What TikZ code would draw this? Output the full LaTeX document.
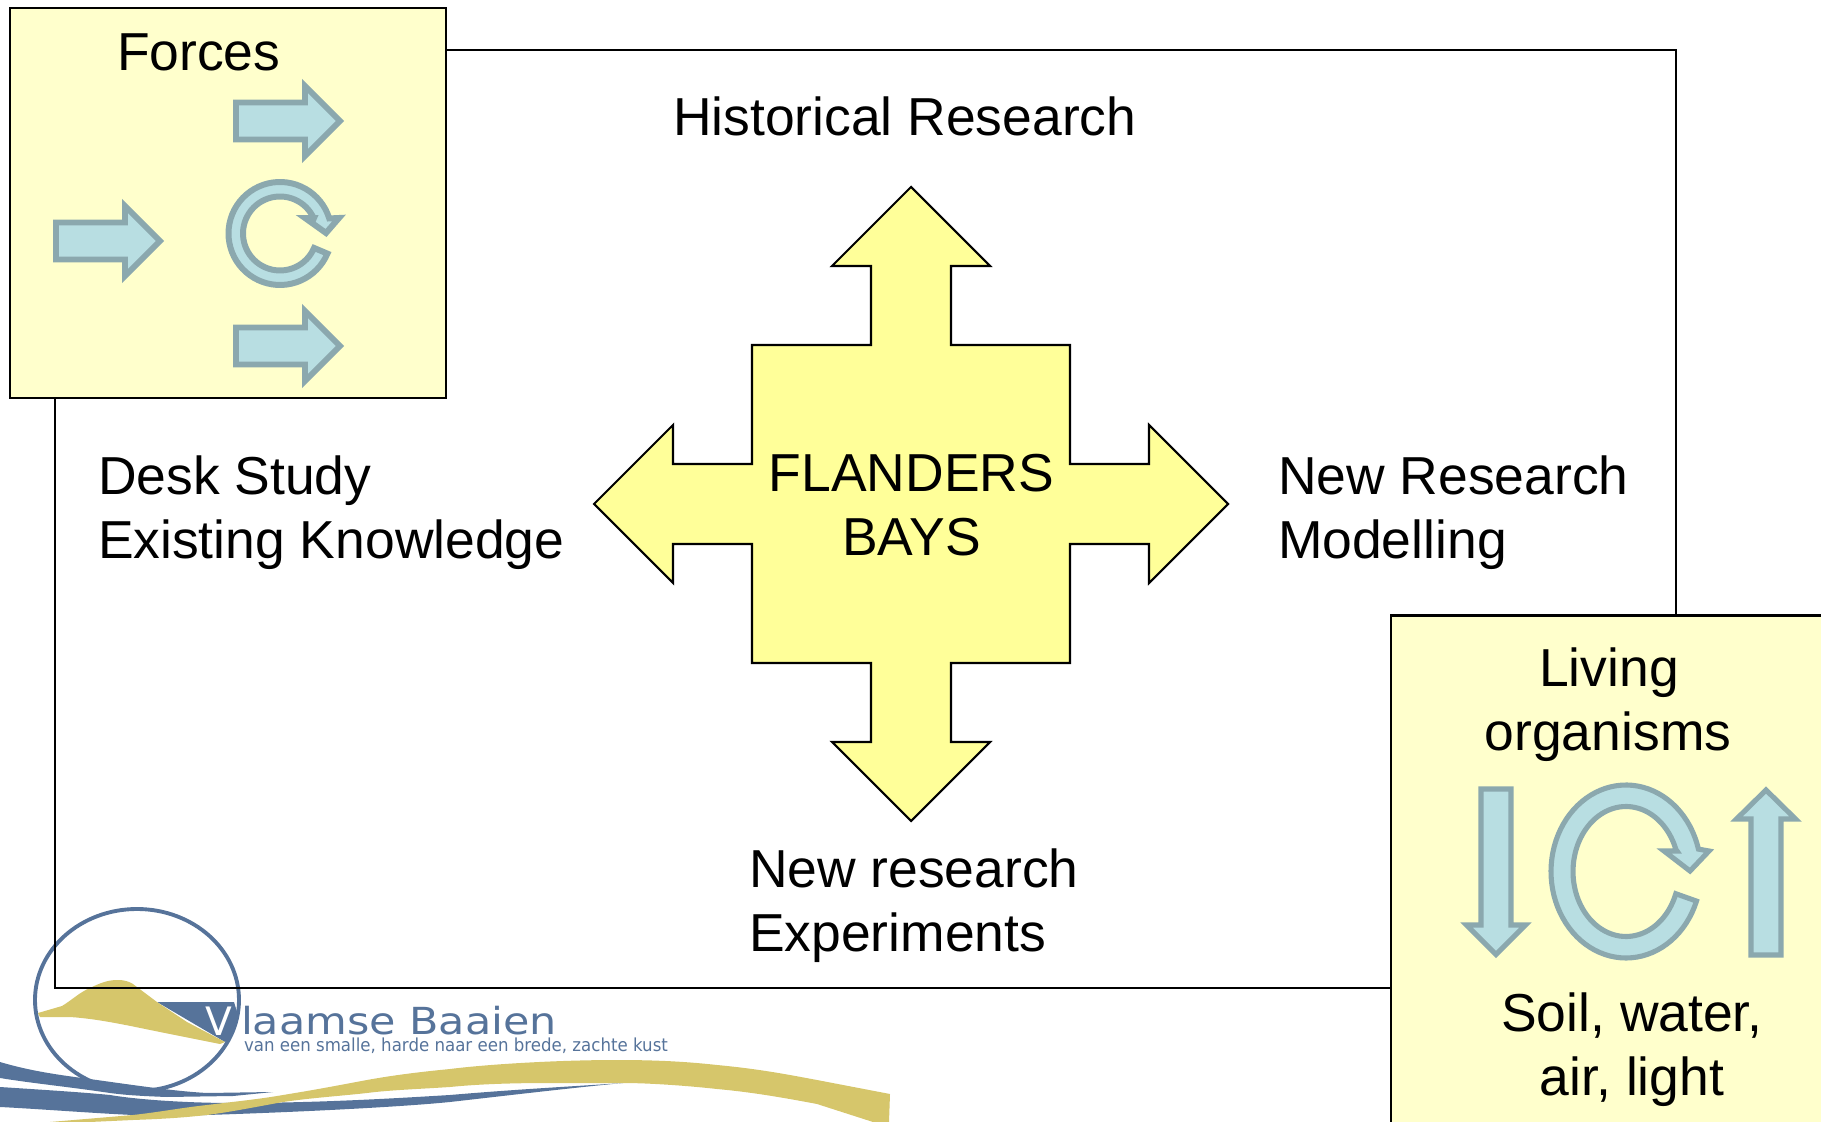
\documentclass[tikz,border=0pt]{standalone}
\usepackage{fontspec}
\setmainfont{Liberation Sans}
\newfontfamily\logofont{DejaVu Sans}
\definecolor{boxfill}{HTML}{FFFFCC}
\definecolor{crossfill}{HTML}{FFFF99}
\definecolor{arrowfill}{HTML}{B8DEE2}
\definecolor{arrowline}{HTML}{8BA8AE}
\definecolor{logoblue}{HTML}{56739A}
\definecolor{logogold}{HTML}{D6C66B}
\tikzset{
  frameline/.style={draw=black,line width=0.6pt},
  panelbox/.style={frameline,fill=boxfill},
  crossshape/.style={frameline,fill=crossfill,miter limit=10},
  bluearrow/.style={draw=arrowline,fill=arrowfill,line width=1.45pt,miter limit=10},
  forcearrow/.style={bluearrow,line width=1.7pt},
  label/.style={inner sep=0pt,outer sep=0pt,font=\fontsize{15.2}{18}\selectfont,text=black},
  logotext/.style={inner sep=0pt,outer sep=0pt,anchor=base west,text=logoblue},
  logofill/.style={fill=logoblue,draw=none},
  goldfill/.style={fill=logogold,draw=none}
}
\newcommand{\rightarrowat}[2]{% tail-left x, centre y
  \draw[forcearrow,shift={(#1,#2)}] (0,-18.5) -- (69,-18.5) -- (69,-35) -- (104,0) -- (69,35) -- (69,18.5) -- (0,18.5) -- cycle;}
\begin{document}
\begin{tikzpicture}[x=0.01cm,y=-0.01cm]
\useasboundingbox (0,0) rectangle (1821,1122);
\clip (0,0) rectangle (1821,1122);

% logo
\draw[logoblue,line width=1.1pt] (137,1000) ellipse [x radius=102,y radius=91];
\path[logofill] (157,1002) -- (234,1002) -- (238,1015) -- (228,1040) -- (225,1042) -- cycle;
\path[goldfill] (38,1013) -- (62,1006) .. controls (72,1000) and (80,992) .. (90,988)
  .. controls (100,983) and (108,980) .. (117,980) .. controls (124,980) and (128,981) .. (133,984)
  -- (157,1002) -- (187,1022) -- (225,1042) -- (220,1044) -- (160,1032)
  .. controls (130,1026) and (100,1019) .. (70,1017) -- (40,1017) -- cycle;
\path[logofill] (0,1062) .. controls (30,1071) and (60,1075) .. (82,1078)
  .. controls (120,1083) and (170,1091) .. (207,1093) -- (273,1092) -- (233,1096)
  -- (167,1097) .. controls (140,1096) and (125,1095) .. (110,1093)
  .. controls (70,1087) and (30,1083) .. (0,1078) -- cycle;
\path[logofill] (0,1087) .. controls (30,1089) and (80,1092) .. (110,1095)
  .. controls (140,1100) and (190,1103) .. (233,1103)
  .. controls (320,1103) and (400,1098) .. (450,1095)
  .. controls (520,1089) and (580,1086) .. (623,1083)
  .. controls (580,1087) and (520,1094) .. (450,1102)
  .. controls (400,1107) and (300,1112) .. (207,1115)
  -- (133,1115) .. controls (90,1113) and (40,1109) .. (0,1107) -- cycle;
\path[goldfill] (50,1122) -- (133,1115) .. controls (160,1112) and (180,1108) .. (207,1105)
  .. controls (240,1101) and (260,1099) .. (283,1095)
  .. controls (320,1089) and (340,1085) .. (367,1080)
  .. controls (400,1074) and (430,1071) .. (450,1069)
  .. controls (490,1064) and (560,1060) .. (617,1060)
  .. controls (660,1060) and (690,1062) .. (717,1065)
  .. controls (760,1069) and (790,1075) .. (817,1080)
  -- (890,1094) -- (889,1122) -- (873,1122) -- (817,1104)
  .. controls (780,1097) and (750,1092) .. (717,1089)
  .. controls (690,1086) and (650,1083) .. (623,1083)
  -- (550,1083) .. controls (500,1083) and (470,1085) .. (450,1087)
  .. controls (420,1089) and (390,1090) .. (367,1093)
  .. controls (340,1096) and (310,1098) .. (283,1102)
  .. controls (250,1108) and (230,1112) .. (207,1115)
  .. controls (180,1118) and (160,1119) .. (133,1120) -- (90,1122) -- cycle;
\node[logotext,text=white] (logoV) at (205,1035) {\scalebox{1.05}[1.05]{\logofont\fontsize{10.6}{12}\selectfont V}};
\node[logotext] (logoname) at (241,1034) {\scalebox{1.15}[1]{\logofont\fontsize{10.6}{12}\selectfont laamse Baaien}};
\node[logotext] (logotag) at (244,1051) {\scalebox{0.927}[1]{\logofont\fontsize{5.1}{6}\selectfont van een smalle, harde naar een brede, zachte kust}};

% main frame
\draw[frameline] (55,50) rectangle (1676,988);

% forces panel
\draw[panelbox] (10,8) rectangle (446,398);
\node[label,anchor=base west] (forces) at (117,71) {Forces};
\rightarrowat{236}{121}
\rightarrowat{56}{241}
\rightarrowat{236}{346}
\draw[forcearrow] plot[domain=23:343,samples=60] ({280+51.5*cos(\x)},{233.5+51.5*sin(\x)})
  -- (339,218) -- (326,233) -- (305,218) -- (314,218)
  -- plot[domain=336:23,samples=60] ({280+37*cos(\x)},{233.5+37*sin(\x)}) -- cycle;

% living panel
\draw[panelbox] (1391,615.5) rectangle (1830,1130);
\node[label,anchor=base] (living) at (1609,687) {Living};
\node[label,anchor=base] (organisms) at (1608,751) {organisms};
\node[label,anchor=base] (soil) at (1632,1031) {Soil, water,};
\node[label,anchor=base] (air) at (1632,1095) {air, light};
\draw[bluearrow,shift={(1496,0)}] (-15,789) -- (15,789) -- (15,925) -- (29.5,925) -- (0,954.5) -- (-29.5,925) -- (-15,925) -- cycle;
\draw[bluearrow,shift={(1766,0)}] (-15,955) -- (15,955) -- (15,819) -- (29.5,819) -- (0,790) -- (-29.5,819) -- (-15,819) -- cycle;
\draw[bluearrow] plot[domain=20:345,samples=80] ({1626+75*cos(\x)},{871.5+86.5*sin(\x)})
  -- (1709,851) -- (1690,871) -- (1664,851) -- (1677,851)
  -- plot[domain=340:20,samples=80] ({1626+53*cos(\x)},{871.5+65*sin(\x)}) -- cycle;

% central cross
\draw[crossshape,shift={(911,504)}]
  (-159,-159) -- (-40,-159) -- (-40,-238) -- (-79,-238) -- (0,-317) -- (79,-238) -- (40,-238) -- (40,-159)
  -- (159,-159) -- (159,-40) -- (238,-40) -- (238,-79) -- (317,0) -- (238,79) -- (238,40) -- (159,40)
  -- (159,159) -- (40,159) -- (40,238) -- (79,238) -- (0,317) -- (-79,238) -- (-40,238) -- (-40,159)
  -- (-159,159) -- (-159,40) -- (-238,40) -- (-238,79) -- (-317,0) -- (-238,-79) -- (-238,-40) -- (-159,-40)
  -- cycle;
\node[label,anchor=base] (flanders) at (911.5,492) {FLANDERS};
\node[label,anchor=base] (bays) at (911.5,556) {BAYS};

% labels
\node[label,anchor=base west] (historical) at (673,136) {Historical Research};
\node[label,anchor=base west] (desk) at (98,495) {Desk Study};
\node[label,anchor=base west] (existing) at (98,559) {Existing Knowledge};
\node[label,anchor=base west] (newres) at (1278,495) {New Research};
\node[label,anchor=base west] (modelling) at (1278,559) {Modelling};
\node[label,anchor=base west] (newexp) at (749,887) {New research};
\node[label,anchor=base west] (experiments) at (749,951) {Experiments};
\end{tikzpicture}
\end{document}
